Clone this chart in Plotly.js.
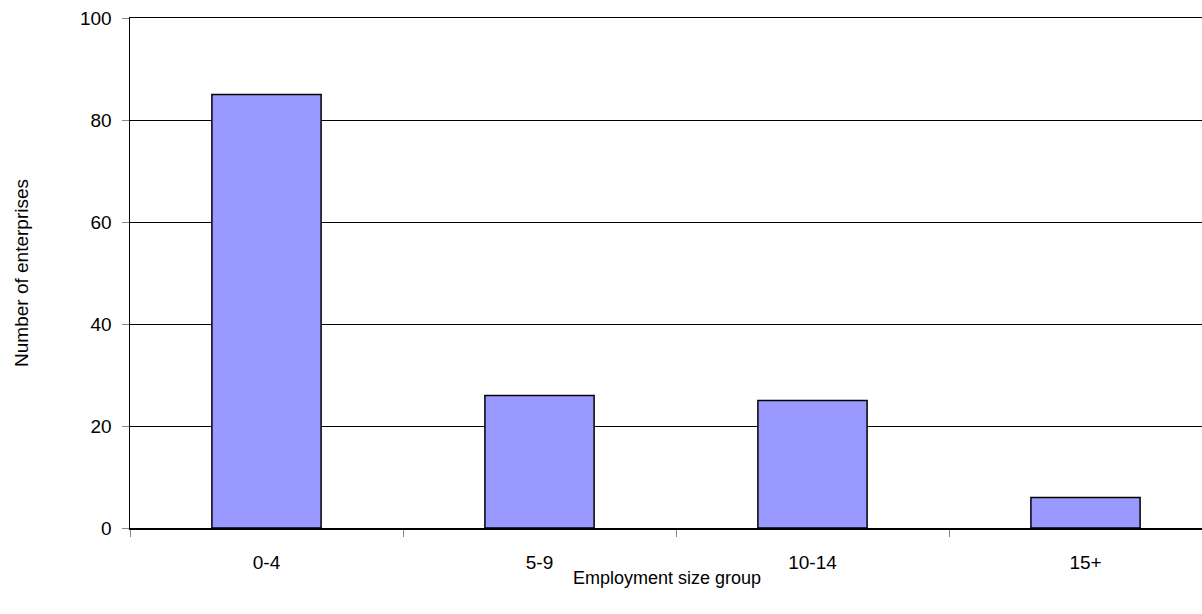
<!DOCTYPE html>
<html>
<head>
<meta charset="utf-8">
<script src="https://cdn.plot.ly/plotly-3.0.1.min.js"></script>
<style>
html, body { margin: 0; padding: 0; overflow: hidden; background: #fff; }
#chart { width: 1240px; height: 614px; }
</style>
</head>
<body>
<div id="chart"></div>
<script>
var categories = ["0-4", "5-9", "10-14", "15+"];
var enterprises = [85, 26, 25, 6];
var yTicks = [0, 20, 40, 60, 80, 100];

var trace = {
  type: "bar",
  x: categories,
  y: enterprises,
  width: 0.4,
  marker: { color: "#9999ff", line: { color: "#000000", width: 1.5 } },
  hoverinfo: "x+y"
};

var layout = {
  width: 1240,
  height: 614,
  margin: { l: 130, r: 18, t: 18, b: 86 },
  paper_bgcolor: "#ffffff",
  plot_bgcolor: "#ffffff",
  font: { family: "Liberation Sans, Arial, sans-serif", size: 19, color: "#000000" },
  showlegend: false,
  xaxis: {
    type: "category",
    range: [-0.5, 3.5],
    tickson: "boundaries",
    ticks: "outside",
    ticklen: 7,
    tickcolor: "#888888",
    tickwidth: 1,
    showline: true,
    linecolor: "#000000",
    linewidth: 1.5,
    mirror: true,
    showgrid: false,
    zeroline: false,
    tickfont: { size: 19 },
    ticklabelstandoff: 17
  },
  yaxis: {
    range: [0, 100],
    tickvals: yTicks,
    ticks: "outside",
    ticklen: 7,
    tickcolor: "#888888",
    showline: true,
    linecolor: "#000000",
    linewidth: 1.5,
    showgrid: true,
    gridcolor: "#000000",
    gridwidth: 1,
    zeroline: false,
    tickfont: { size: 19 },
    ticklabelstandoff: 6,
    title: { text: "Number of enterprises", font: { size: 19 }, standoff: 46 }
  },
  annotations: [
    {
      text: "Employment size group",
      xref: "paper", yref: "paper",
      x: 0.4918, y: -0.098,
      xanchor: "center", yanchor: "middle",
      showarrow: false,
      font: { size: 18 }
    }
  ]
};

Plotly.newPlot("chart", [trace], layout, { displayModeBar: false, staticPlot: true });
</script>
</body>
</html>
